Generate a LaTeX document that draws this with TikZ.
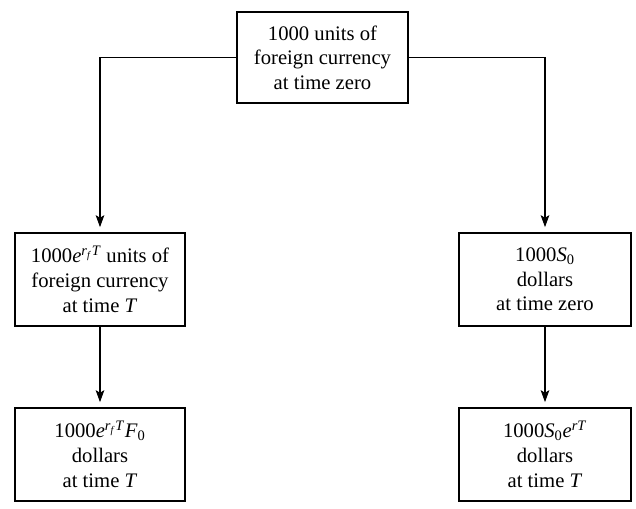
\documentclass[tikz,border=0pt]{standalone}
\usepackage{fontspec}
\setmainfont{Liberation Serif}
\usetikzlibrary{arrows.meta,positioning}
% italic letters in the Times-like text font
\newcommand{\vit}[1]{\textit{#1}}
\newcommand{\vup}[1]{\textsuperscript{#1}}
\newcommand{\vdn}[1]{\textsubscript{#1}}

\begin{document}
\begin{tikzpicture}[x=0.75pt,y=-0.75pt,
    cbox/.style={draw,line width=0.8pt,align=center,inner sep=0pt,
      font=\fontsize{15.5}{18.5}\selectfont,minimum height=69.75pt},
    flow/.style={-{Stealth[length=9pt,width=6.5pt,inset=2pt]},line width=0.8pt,shorten >=4pt}]
  \useasboundingbox (0,0) rectangle (636,508);
  % the foreign currency held at time zero
  \node[cbox,minimum width=128.25pt,minimum height=68.25pt] (start) at (322.5,57.5)
    {1000 units of\\foreign currency\\at time zero};
  % left branch: invest abroad, then convert
  \node[cbox,minimum width=127.5pt] (invest) at (100,279.5)
    {1000\vit{e}\vup{\vit{r}\vdn{\vit{f}}\vit{T}} units of\\foreign currency\\at time \vit{T}};
  \node[cbox,minimum width=127.5pt] (fwd) at (100,454.5)
    {1000\vit{e}\vup{\vit{r}\vdn{\vit{f}}\vit{T}}\vit{F}\vdn{0}\\dollars\\at time \vit{T}};
  % right branch: convert now, then invest at home
  \node[cbox,minimum width=129pt] (spot) at (545,279.5)
    {1000\vit{S}\vdn{0}\\dollars\\at time zero};
  \node[cbox,minimum width=129pt] (home) at (545,454.5)
    {1000\vit{S}\vdn{0}\vit{e}\vup{\vit{rT}}\\dollars\\at time \vit{T}};
  \draw[flow] (start.west) -| (invest.north);
  \draw[flow] (start.east) -| (spot.north);
  \draw[flow] (invest) -- (fwd);
  \draw[flow] (spot) -- (home);
\end{tikzpicture}
\end{document}
